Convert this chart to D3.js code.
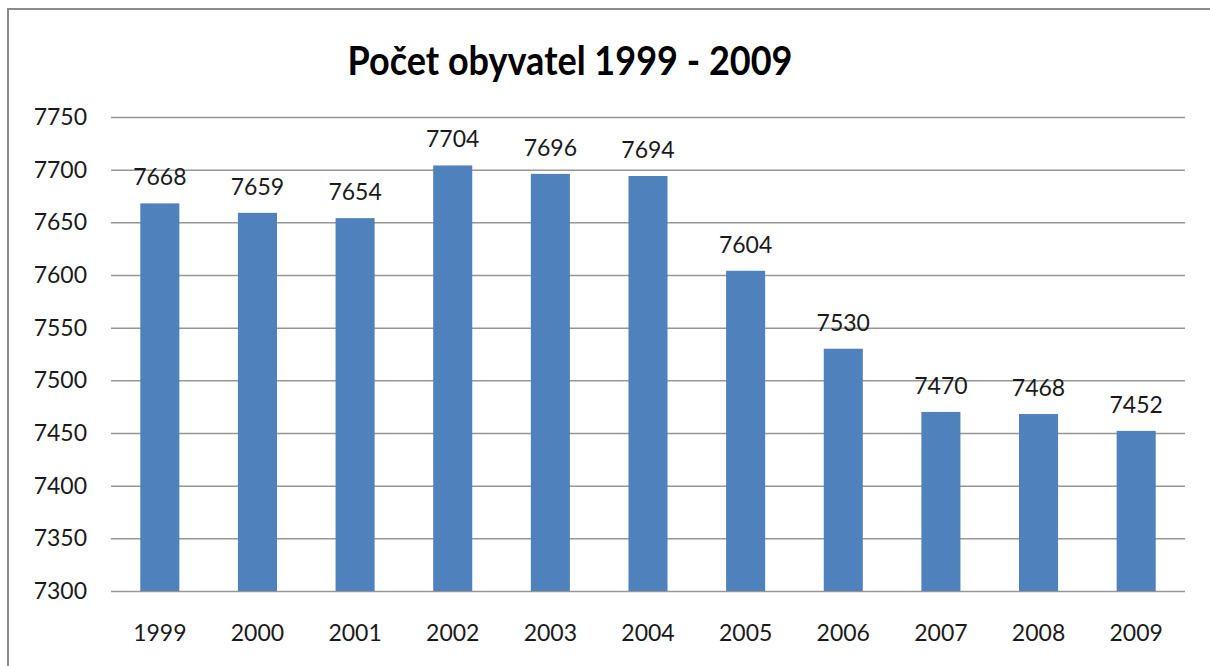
<!DOCTYPE html>
<html><head><meta charset="utf-8">
<script src="https://cdn.jsdelivr.net/npm/d3@7"></script>
<style>html,body{margin:0;padding:0;background:#fff;}svg{display:block;}</style>
</head><body>
<svg id="chart" width="1210" height="666"></svg>
<script>
const years = ["1999","2000","2001","2002","2003","2004","2005","2006","2007","2008","2009"];
const population = [7668,7659,7654,7704,7696,7694,7604,7530,7470,7468,7452];
const yTicks = [7300,7350,7400,7450,7500,7550,7600,7650,7700,7750];
const title = "Počet obyvatel 1999 - 2009";

const svg = d3.select("#chart");
const W = 1210, H = 666;
const m = {left:111, right:25, top:117, bottom:75};

svg.append("rect").attr("width",W).attr("height",H).attr("fill","#fff");
// frame
svg.append("path").attr("d",`M8,${H} L8,9 L${W},9`).attr("fill","none").attr("stroke","#8c8c8c").attr("stroke-width",2);

const x = d3.scaleBand().domain(years).range([m.left, W-m.right]).paddingInner(0.6).paddingOuter(0.3);
const y = d3.scaleLinear().domain([7300,7750]).range([H-m.bottom, m.top]);

const font = "Lato, 'Liberation Sans', sans-serif";

// gridlines
const yAxis = d3.axisLeft(y).tickValues(yTicks).tickSize(-(W-m.right-m.left)).tickPadding(24).tickFormat(d3.format("d"));
const gy = svg.append("g").attr("transform",`translate(${m.left},0)`).call(yAxis);
gy.select(".domain").remove();
gy.selectAll(".tick line").attr("stroke","#969696").attr("stroke-width",1.5);
gy.selectAll(".tick text").attr("font-family",font).attr("font-size",23).attr("fill","#1a1a1a");

// bars
svg.append("g").selectAll("rect").data(years).join("rect")
  .attr("x",d=>x(d)).attr("width",x.bandwidth())
  .attr("y",(d,i)=>y(population[i])).attr("height",(d,i)=>y(7300)-y(population[i]))
  .attr("fill","#4f81bd");

// value labels
svg.append("g").selectAll("text").data(years).join("text")
  .attr("x",d=>x(d)+x.bandwidth()/2).attr("y",(d,i)=>y(population[i])-18)
  .attr("text-anchor","middle").attr("font-family",font).attr("font-size",23).attr("fill","#1a1a1a")
  .text((d,i)=>population[i]);

// x axis labels
const xAxis = d3.axisBottom(x).tickSize(0).tickPadding(0);
const gx = svg.append("g").attr("transform",`translate(0,${y(7300)})`).call(xAxis);
gx.select(".domain").remove();
gx.selectAll(".tick text").attr("font-family",font).attr("font-size",23).attr("fill","#1a1a1a")
  .attr("dy",null).attr("y",50);

// title
svg.append("text").attr("x",570).attr("y",75).attr("text-anchor","middle")
  .attr("font-family","Lato, 'Open Sans', sans-serif").attr("font-weight","bold").attr("font-size",41)
  .attr("textLength",445).attr("lengthAdjust","spacingAndGlyphs").attr("fill","#000").text(title);
</script>
</body></html>
